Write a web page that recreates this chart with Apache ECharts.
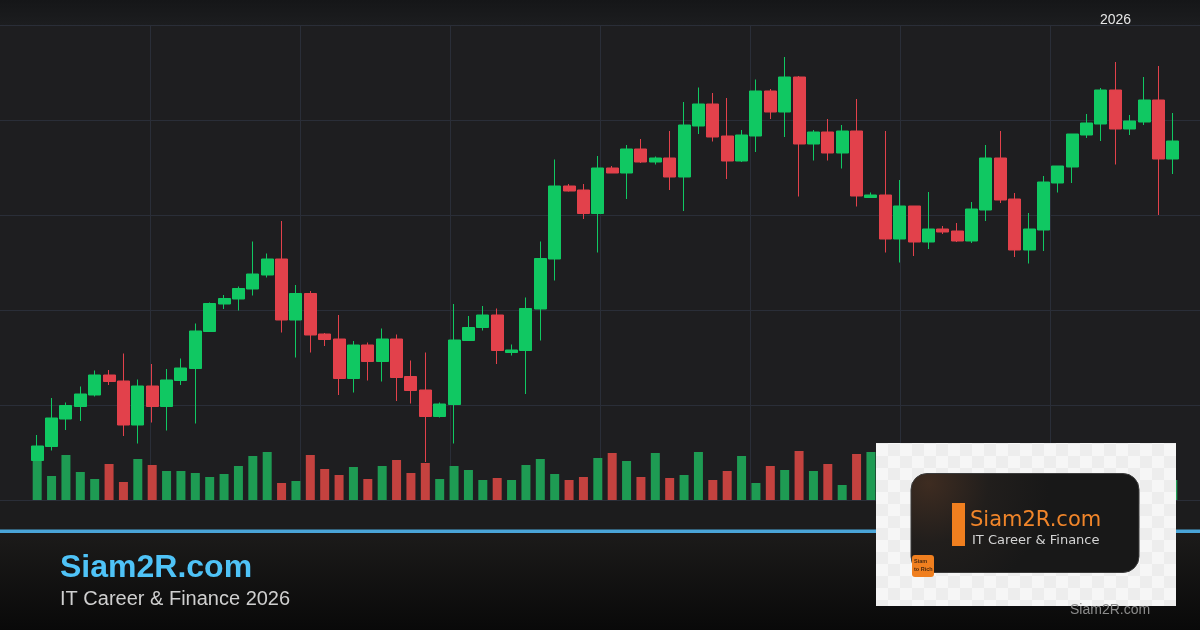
<!DOCTYPE html>
<html>
<head>
<meta charset="utf-8">
<style>
html,body{margin:0;padding:0;background:#1e1e20;}
#chart{width:1200px;height:630px;}
</style>
<script src="https://cdn.jsdelivr.net/npm/echarts@6/dist/echarts.min.js"></script>
</head>
<body>
<div id="chart"></div>
<script>
// ---- data ----
const categories = Array.from({length: 80}, (_, i) => 'D' + (i + 1));
const opens  = [107.9,110.7,116.2,118.7,121.0,125.0,123.8,115.0,122.8,118.7,123.9,126.3,133.7,139.2,140.2,142.2,145.0,148.2,136.0,141.3,
                133.2,132.2,124.3,131.0,127.7,132.2,124.7,122.0,116.7,119.1,131.9,134.5,137.0,129.5,129.9,138.2,148.2,162.8,162.0,157.3,
                166.4,165.4,170.2,167.6,168.4,164.6,174.8,179.2,172.8,167.8,172.8,181.8,177.6,184.6,171.2,173.6,169.4,173.8,160.5,161.0,
                152.2,158.8,151.6,154.2,153.8,151.8,158.0,168.4,160.2,150.0,154.0,163.4,166.6,173.0,175.2,182.0,174.2,175.6,180.0,168.2];
const closes = [110.8,116.4,118.9,121.2,125.0,123.7,115.0,122.8,118.7,124.0,126.4,133.8,139.3,140.3,142.3,145.2,148.2,136.0,141.3,133.0,
                132.1,124.3,131.0,127.7,132.2,124.5,121.9,116.7,119.2,132.0,134.5,137.0,129.9,130.0,138.3,148.3,162.8,161.8,157.3,166.4,
                165.4,170.2,167.6,168.4,164.6,175.0,179.2,172.6,167.8,173.0,181.8,177.6,184.6,171.2,173.6,169.4,173.8,160.8,161.0,152.2,
                158.8,151.6,154.2,153.6,151.8,158.2,168.4,160.0,150.0,154.2,163.6,166.8,173.2,175.4,182.0,174.2,175.8,180.0,168.2,171.8];
const lows   = [107.8,109.9,114.0,115.8,120.7,123.0,112.8,111.3,115.5,113.9,123.0,115.3,133.7,138.2,137.9,140.9,144.5,133.5,128.5,129.5,
                130.8,121.0,121.5,123.9,123.7,119.8,119.3,107.6,116.5,111.3,131.9,133.9,127.2,128.9,121.2,131.9,143.9,161.7,156.2,149.5,
                165.4,160.2,167.4,167.1,162.0,157.8,173.2,171.7,164.2,167.6,169.6,176.2,172.6,160.7,167.9,167.9,166.3,158.7,160.5,149.5,
                147.5,148.8,150.2,153.2,151.6,151.4,155.8,159.4,148.6,147.3,149.8,161.5,163.4,172.4,171.8,167.1,173.0,175.0,157.0,165.2];
const highs  = [113.0,120.4,119.5,122.7,125.9,126.0,129.3,124.1,127.2,126.2,128.3,135.3,139.5,141.0,142.7,151.7,149.3,155.8,143.0,141.8,
                133.4,137.0,131.8,131.5,134.3,133.1,127.9,129.5,119.5,139.2,136.8,138.8,138.3,131.1,140.5,151.7,168.1,163.2,163.2,168.8,
                166.8,171.0,172.2,168.7,173.8,179.6,182.5,181.4,180.4,174.0,184.1,182.2,188.6,184.8,174.0,176.2,175.0,180.2,161.5,173.8,
                164.0,158.8,161.6,154.8,155.4,159.6,171.0,173.8,161.4,157.4,164.8,166.8,173.2,177.2,182.4,187.6,177.0,184.6,186.8,177.4];
const volumes = [42,24,45,28,21,36,18,41,35,29,29,27,23,26,34,44,48,17,19,45,
                 31,25,33,21,34,40,27,37,21,34,30,20,22,20,35,41,26,20,23,42,
                 47,39,23,47,22,25,48,20,29,44,17,34,30,49,29,36,15,46,48,40,
                 30,35,25,18,22,30,42,36,38,28,40,22,32,26,35,44,20,30,46,20];

const upColor = '#10c862', downColor = '#e2414b';
const upVol = '#1e9b53', downVol = '#c4423f';

const candleData = opens.map((o, i) => [o, closes[i], lows[i], highs[i]]);
const volumeData = volumes.map((v, i) => ({
  value: v,
  itemStyle: { color: closes[i] >= opens[i] ? upVol : downVol }
}));

// checker pattern for the logo image backdrop
const pc = document.createElement('canvas');
pc.width = 24; pc.height = 24;
const pctx = pc.getContext('2d');
pctx.fillStyle = '#f6f6f6'; pctx.fillRect(0, 0, 24, 24);
pctx.fillStyle = '#ededed'; pctx.fillRect(12, 0, 12, 12); pctx.fillRect(0, 12, 12, 12);

const chart = echarts.init(document.getElementById('chart'), null, {renderer: 'canvas'});
const F = "'Liberation Sans', Arial, sans-serif";

chart.setOption({
  backgroundColor: '#1e1e20',
  animation: false,
  grid: [
    {left: 0, right: 0, top: 25, bottom: 130},
    {left: 30, right: 20, top: 25, bottom: 130},
    {left: 30, right: 20, top: 400, bottom: 130}
  ],
  xAxis: [
    {type: 'value', gridIndex: 0, min: 0, max: 1200, interval: 150,
     axisLine: {show: false}, axisTick: {show: false}, axisLabel: {show: false},
     splitLine: {show: true, showMinLine: false, showMaxLine: false, lineStyle: {color: '#2a2e38', width: 1}}},
    {type: 'category', gridIndex: 1, data: categories, boundaryGap: true,
     axisLine: {show: false}, axisTick: {show: false}, axisLabel: {show: false}, splitLine: {show: false}},
    {type: 'category', gridIndex: 2, data: categories, boundaryGap: true,
     axisLine: {show: false}, axisTick: {show: false}, axisLabel: {show: false}, splitLine: {show: false}}
  ],
  yAxis: [
    {type: 'value', gridIndex: 0, min: 0, max: 475, interval: 95,
     axisLine: {show: false}, axisTick: {show: false}, axisLabel: {show: false},
     splitLine: {show: true, lineStyle: {color: '#2a2e38', width: 1}}},
    {type: 'value', gridIndex: 1, min: 100, max: 195, scale: true,
     axisLine: {show: false}, axisTick: {show: false}, axisLabel: {show: false}, splitLine: {show: false}},
    {type: 'value', gridIndex: 2, min: 0, max: 100,
     axisLine: {show: false}, axisTick: {show: false}, axisLabel: {show: false}, splitLine: {show: false}}
  ],
  series: [
    {type: 'bar', xAxisIndex: 2, yAxisIndex: 2, data: volumeData, barWidth: 9, z: 1, silent: true},
    {type: 'candlestick', xAxisIndex: 1, yAxisIndex: 1, data: candleData, barWidth: 12.6, z: 3, silent: true,
     itemStyle: {color: upColor, color0: downColor, borderColor: upColor, borderColor0: downColor, borderWidth: 1}}
  ],
  graphic: [
    // top band
    {type: 'rect', z: -1, silent: true, shape: {x: 0, y: 0, width: 1200, height: 25},
     style: {fill: {type: 'linear', x: 0, y: 0, x2: 0, y2: 1,
       colorStops: [{offset: 0, color: '#151618'}, {offset: 1, color: '#1c1d1f'}]}}},
    // strip under chart
    {type: 'rect', z: -1, silent: true, shape: {x: 0, y: 501, width: 1200, height: 29}, style: {fill: '#1c1c1d'}},
    // blue line
    {type: 'rect', z: 50, silent: true, shape: {x: 0, y: 529.5, width: 1200, height: 3.5}, style: {fill: '#4aa5d8'}},
    // bottom banner
    {type: 'rect', z: 50, silent: true, shape: {x: 0, y: 533, width: 1200, height: 97},
     style: {fill: {type: 'linear', x: 0, y: 0, x2: 0, y2: 1,
       colorStops: [{offset: 0, color: '#1c1b1a'}, {offset: 1, color: '#090909'}]}}},
    {type: 'text', z: 60, silent: true, style: {text: 'Siam2R.com', x: 60, y: 568.2, verticalAlign: 'middle',
       font: "bold 32px " + F, fill: '#4fc3f7'}},
    {type: 'text', z: 60, silent: true, style: {text: 'IT Career & Finance 2026', x: 60, y: 599.8, verticalAlign: 'middle',
       font: "20px " + F, fill: '#cfcfcf'}},
    // top-right year
    {type: 'text', z: 60, silent: true, style: {text: '2026', x: 1100, y: 20.4, verticalAlign: 'middle',
       font: "14px " + F, fill: '#e6e6e6'}},
    // logo image backdrop
    {type: 'rect', z: 100, silent: true, shape: {x: 876, y: 443, width: 300, height: 163},
     style: {fill: {type: 'pattern', image: pc, repeat: 'repeat'}}},
    {type: 'rect', z: 101, silent: true, shape: {x: 911, y: 473.5, width: 228, height: 99, r: 16},
     style: {fill: {type: 'radial', x: 0.08, y: 0.1, r: 1.2,
       colorStops: [{offset: 0, color: '#3e2c21'}, {offset: 0.5, color: '#211e1c'}, {offset: 1, color: '#181818'}]},
       stroke: '#3c3c3c', lineWidth: 1}},
    {type: 'rect', z: 102, silent: true, shape: {x: 952, y: 503, width: 13, height: 43}, style: {fill: '#f07f1f'}},
    {type: 'text', z: 102, silent: true, style: {text: 'Siam2R.com', x: 970, y: 521, verticalAlign: 'middle',
       font: "21px 'DejaVu Sans', sans-serif", fill: '#f0852a'}},
    {type: 'text', z: 102, silent: true, style: {text: 'IT Career & Finance', x: 972, y: 540.5, verticalAlign: 'middle',
       font: "13px 'DejaVu Sans', sans-serif", fill: '#d4d4d4'}},
    {type: 'rect', z: 102, silent: true, shape: {x: 912, y: 555, width: 22, height: 22, r: 3}, style: {fill: '#f07f1f'}},
    {type: 'text', z: 103, silent: true, style: {text: 'Siam', x: 914, y: 561, verticalAlign: 'middle',
       font: "bold 5.5px " + F, fill: '#4a2a10'}},
    {type: 'text', z: 103, silent: true, style: {text: 'to Rich', x: 914, y: 569, verticalAlign: 'middle',
       font: "bold 5.5px " + F, fill: '#4a2a10'}},
    // bottom-right watermark
    {type: 'text', z: 104, silent: true, style: {text: 'Siam2R.com', x: 1070, y: 610.5, verticalAlign: 'middle',
       font: "14px " + F, fill: '#8c8c8c'}}
  ]
});
</script>
</body>
</html>
